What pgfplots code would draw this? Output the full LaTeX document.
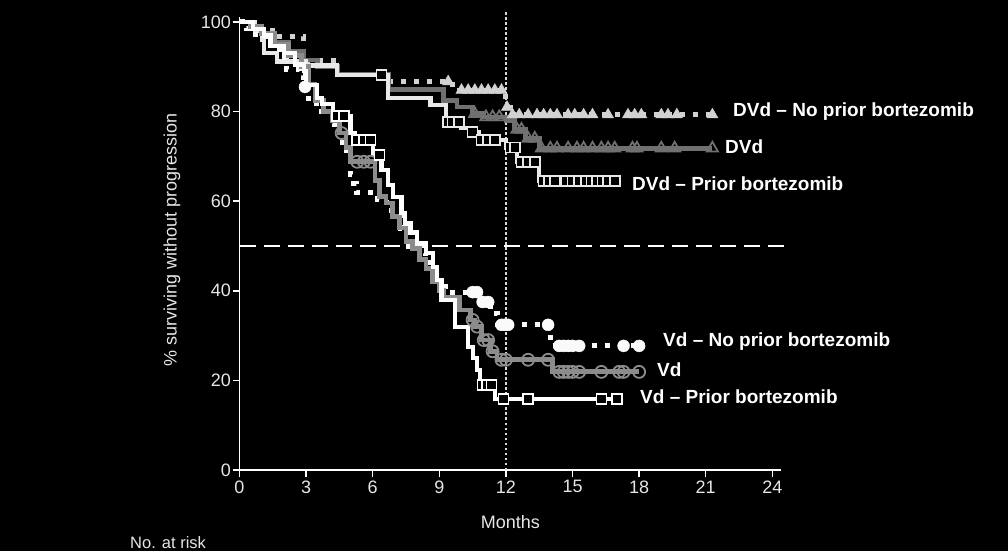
\documentclass[border=0pt]{standalone}
\usepackage{pgfplots}
\pgfplotsset{compat=1.18}
\usepackage{fontspec}
\setmainfont{Liberation Sans}
\definecolor{cDVdN}{HTML}{D2D2D2}
\definecolor{cDVd}{HTML}{707070}
\definecolor{cDVdP}{HTML}{E8E8E8}
\definecolor{cVdN}{HTML}{FAFAFA}
\definecolor{cVd}{HTML}{8C8C8C}
\definecolor{cVdP}{HTML}{FFFFFF}
\definecolor{txt}{HTML}{E6E6E6}
\begin{document}
\begin{tikzpicture}
\fill[black] (0,0) rectangle (1008pt,551pt);
\begin{axis}[
  at={(239.5pt,81pt)}, anchor=south west,
  scale only axis, width=541.7pt, height=452.5pt,
  xmin=0, xmax=24.4, ymin=0, ymax=101,
  axis x line*=bottom, axis y line*=left,
  axis line style={white, line width=1.8pt, -},
  xtick={0,3,...,24}, ytick={0,20,...,100},
  tick align=outside, major tick length=7pt,
  tick style={white, line width=1.5pt},
  ticklabel style={color=txt, font=\fontsize{18}{20}\selectfont},
  yticklabel style={xshift=2pt},
  /pgf/number format/assume math mode=true,
  xlabel={Months}, ylabel={\% surviving without progression},
  label style={color=txt, font=\fontsize{18}{20}\selectfont},
  xlabel style={at={(axis cs:12.2,-11.6)}, anchor=center},
  ylabel style={at={(axis cs:-3.04,51.3)}, anchor=center},
  clip=false,
  every axis plot/.append style={line join=miter},
]
% reference lines
\addplot[white!85!black, line width=1.2pt, dash pattern=on 2.5pt off 2.5pt, forget plot] coordinates {(12,0) (12,102.2)};
\addplot[white, line width=1.6pt, dash pattern=on 16pt off 8pt, forget plot] coordinates {(0,50) (24.7,50)};

% DVd - No prior bortezomib
\addplot[cDVdN, line width=5pt, dash pattern=on 5pt off 8pt, const plot, forget plot] coordinates {
(0,100)(0.5,99)(1.0,98)(1.8,96.8)(2.9,91.5)(4.4,88.2)(6.8,86.7)(9.6,84.8)(12.0,81)(12.2,79.3)(21.3,79.3)};
\addplot[only marks, mark=triangle*, mark size=6.5pt, cDVdN, fill=cDVdN, forget plot] coordinates {
(9.4,86.7)(10.0,84.8)(10.3,84.8)(10.6,84.8)(10.9,84.8)(11.2,84.8)(11.5,84.8)(11.8,84.8)(12.05,81)
(12.3,79.3)(12.6,79.3)(13.0,79.3)(13.4,79.3)(13.7,79.3)(14.0,79.3)(14.3,79.3)(14.8,79.3)(15.1,79.3)
(15.5,79.3)(15.9,79.3)(16.6,79.3)(17.5,79.3)(17.8,79.3)(18.1,79.3)(19.0,79.3)(19.3,79.3)(19.7,79.3)(21.3,79.3)};

% DVd
\addplot[cDVd, line width=4.8pt, const plot, forget plot] coordinates {
(0,100)(0.5,99)(1.0,97.5)(1.5,95.5)(2.2,93.5)(2.9,91.5)(3.5,90)(4.4,88.2)(6.7,85)(9.2,82.5)(9.8,81)(10.5,79.5)(11.0,78.8)(12.0,78)(12.4,76)(12.9,74)(13.5,71.8)(21.3,71.8)};
\addplot[only marks, mark=triangle, mark size=6.5pt, mark options={draw=cDVd, fill=black, line width=1.8pt}, forget plot] coordinates {
(10.6,79.5)(11.1,78.8)(11.4,78.8)(11.7,78.8)(12.5,76)(12.7,76)(13.0,74)(13.3,74)
(13.6,71.8)(14.0,71.8)(14.3,71.8)(14.8,71.8)(15.2,71.8)(15.5,71.8)(15.9,71.8)(16.3,71.8)(16.6,71.8)(16.9,71.8)(17.7,71.8)(17.9,71.8)(19.0,71.8)(19.6,71.8)(21.3,71.8)};

% DVd - Prior bortezomib
\addplot[cDVdP, line width=4.2pt, const plot, forget plot] coordinates {
(0,100)(0.7,98)(1.0,96)(1.1,93)(1.7,91.2)(3.0,90.3)(4.4,88.2)(6.7,83)(8.6,81.5)(9.3,77.7)(10.0,76.3)(10.4,75.5)(10.8,73.7)(12.0,72)(12.5,68.8)(13.5,64.5)(16.9,64.5)};
\addplot[only marks, mark=square*, mark size=5pt, mark options={draw=cDVdP, fill=black, line width=1.6pt}, forget plot] coordinates {
(6.4,88.2)(9.4,77.7)(9.6,77.7)(9.9,77.7)(10.5,75.5)(10.9,73.7)(11.2,73.7)(11.5,73.7)(12.2,72)(12.4,72)
(12.7,68.8)(13.0,68.8)(13.3,68.8)(13.7,64.5)(13.95,64.5)(14.2,64.5)(14.7,64.5)(15.0,64.5)(15.3,64.5)
(15.6,64.5)(15.85,64.5)(16.1,64.5)(16.35,64.5)(16.6,64.5)(16.9,64.5)};

% Vd - No prior bortezomib
\addplot[cVdN, line width=5pt, dash pattern=on 5pt off 8pt, const plot, forget plot] coordinates {
(0,100)(0.3,98.5)(0.6,97.3)(1.2,95)(1.8,92)(2.1,89.5)(2.7,88)(2.9,85.5)(3.1,81.7)(3.7,80)(4.2,77.4)(4.3,76)(4.5,73.2)(4.8,71.4)(4.9,70)(5.0,66)(5.15,64)(5.25,62)(6.2,60.3)(6.6,58)(6.9,56.5)(7.25,54)(7.6,49.8)(8.2,48.4)(8.4,46.4)(8.6,45.3)(8.8,42.4)(9.3,39.7)(10.8,37.5)(11.3,35)(11.6,32.4)(14.0,27.7)(18.0,27.7)};
\addplot[only marks, mark=*, mark size=6pt, cVdN, fill=cVdN, forget plot] coordinates {
(2.95,85.5)(10.5,39.7)(10.7,39.7)(10.95,37.5)(11.2,37.5)(11.8,32.4)(11.95,32.4)(12.1,32.4)(13.9,32.4)
(14.4,27.7)(14.6,27.7)(14.8,27.7)(15.0,27.7)(15.3,27.7)(17.3,27.7)(18.0,27.7)};

% Vd
\addplot[cVd, line width=4.8pt, const plot, forget plot] coordinates {
(0,100)(0.5,99)(1.0,97.5)(1.6,95)(2.2,92.5)(2.8,90)(3.1,86)(3.4,82.5)(3.8,80)(4.2,78)(4.5,75.2)(4.8,72)(5.0,68.8)(6.1,64.7)(6.3,61)(6.6,59.6)(6.9,56.5)(7.2,54)(7.5,51)(7.8,49.5)(8.1,47)(8.4,45)(8.7,42)(9.0,40)(9.2,38.6)(9.9,35.7)(10.4,33.5)(10.6,32)(10.9,29)(11.3,26.5)(11.6,24.6)(14.1,21.9)(18.0,21.9)};
\addplot[only marks, mark=o, mark size=6pt, mark options={draw=cVd, line width=1.8pt}, forget plot] coordinates {
(4.6,75.2)(5.3,68.8)(5.6,68.8)(5.9,68.8)(10.5,33.5)(10.7,32)(11.0,29)(11.2,29)(11.4,26.5)(11.8,24.6)(12.0,24.6)
(13.0,24.6)(13.9,24.6)(14.4,21.9)(14.6,21.9)(14.8,21.9)(15.0,21.9)(15.3,21.9)(16.3,21.9)(17.1,21.9)(17.3,21.9)(18.0,21.9)};

% Vd - Prior bortezomib
\addplot[cVdP, line width=4.2pt, const plot, forget plot] coordinates {
(0,100)(0.6,98.5)(1.1,97)(1.4,94.6)(2.0,93)(2.5,90.5)(2.9,89)(3.0,86)(3.5,83)(3.7,81.7)(4.2,79)(5.0,75.2)(5.2,73.7)(6.0,70.3)(6.4,67)(6.7,63.6)(6.9,61)(7.3,57.4)(7.45,55)(7.7,53)(8.0,50.7)(8.4,48.5)(8.7,45.3)(8.9,42.4)(9.1,38)(9.7,32)(10.3,27.5)(10.5,25)(10.7,22.3)(10.85,19)(11.5,15.8)(17.0,15.8)};
\addplot[only marks, mark=square*, mark size=5pt, mark options={draw=cVdP, fill=black, line width=1.6pt}, forget plot] coordinates {
(4.4,79)(4.7,79)(5.3,73.7)(5.6,73.7)(5.9,73.7)(6.3,70.3)(10.95,19)(11.15,19)(11.35,19)(11.9,15.8)(13.0,15.8)(16.3,15.8)(17.0,15.8)};
\end{axis}
\begin{scope}[every node/.style={anchor=west, text=white, font=\fontsize{19}{22}\selectfont\bfseries, inner sep=0pt}]
\node at (733pt,439pt) {DVd – No prior bortezomib};
\node at (725pt,404pt) {DVd};
\node at (632pt,367pt) {DVd – Prior bortezomib};
\node at (663pt,209pt) {Vd – No prior bortezomib};
\node at (657pt,181pt) {Vd};
\node at (640pt,154pt) {Vd – Prior bortezomib};
\end{scope}
\node[anchor=west, text=txt, font=\fontsize{16.5}{19}\selectfont, inner sep=0pt] at (130pt,8pt) {No. at risk};
\pgfresetboundingbox
\path (0,0) rectangle (1008pt,551pt);
\end{tikzpicture}
\end{document}
